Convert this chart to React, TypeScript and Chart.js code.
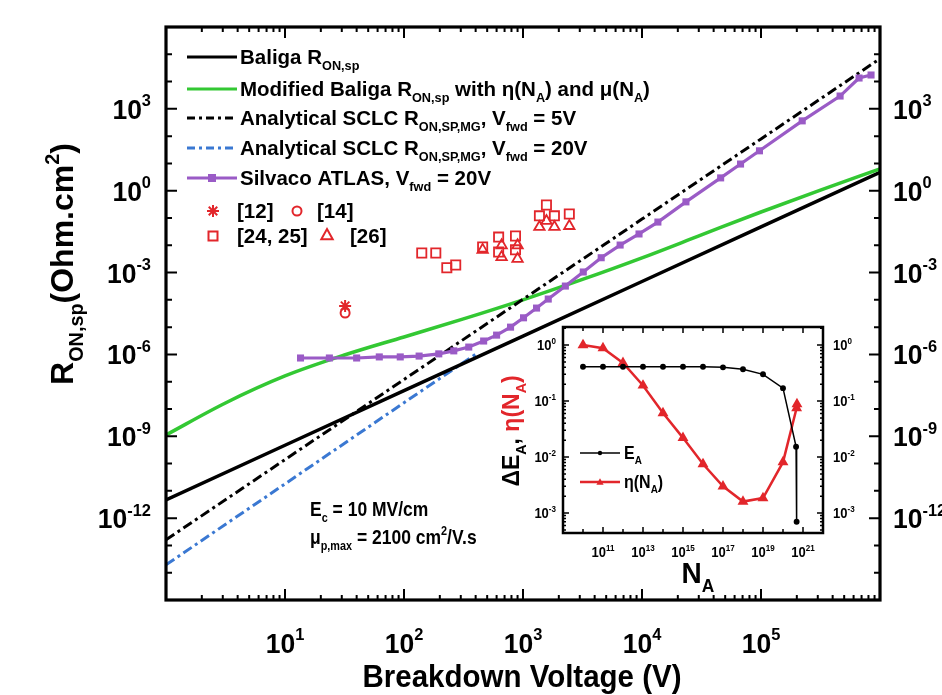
import React, { useEffect, useRef } from "react";
import { Chart, registerables } from "chart.js";

Chart.register(...registerables);

const FONT = '"Liberation Sans", Arial, Helvetica, sans-serif';
const GREEN = "#33c833";
const BLUE = "#3a78d2";
const PURPLE = "#9a5bc6";
const RED = "#e2262b";

// ---------------- main chart data ----------------
const baligaV = [1, 10, 100, 1000, 10000, 100000, 1000000];
const baligaR = [4.7e-12, 4.7e-10, 4.7e-8, 4.7e-6, 4.7e-4, 4.7e-2, 4.7];

const modBaligaV = [1, 3.16, 10, 31.6, 100, 316, 1000, 3160, 10000, 31600, 100000, 316000, 1000000];
const modBaligaR = [1.12e-9, 1.66e-8, 1.62e-7, 9.5e-7, 4.37e-6, 2.0e-5, 1.0e-4, 5.6e-4, 3.47e-3, 2.4e-2, 0.166, 1.06, 6.3];

const sclc5V = [1, 10, 100, 1000, 10000, 100000, 1000000];
const sclc5R = [1.6e-13, 1.4e-10, 1.2e-7, 1.05e-4, 9.1e-2, 79, 6.9e4];

const sclc20V = [1, 10, 100, 400];
const sclc20R = [1.95e-14, 1.8e-11, 1.7e-8, 1.02e-6];

const atlasV = [13.5, 23.6, 40, 62, 93, 134, 196, 262, 350, 467, 600, 786, 1010, 1300, 1630, 2270, 3210, 4540, 6550, 9440, 13600, 23400, 45800, 67300, 97100, 222000, 462000, 667000, 841000];
const atlasR = [7.4e-7, 7.4e-7, 7.4e-7, 8.1e-7, 8.1e-7, 8.7e-7, 1.05e-6, 1.35e-6, 1.86e-6, 3.1e-6, 5.1e-6, 1.0e-5, 2.2e-5, 5.0e-5, 1.07e-4, 3.2e-4, 1.05e-3, 3.5e-3, 1.02e-2, 2.6e-2, 7.1e-2, 0.39, 2.95, 9.5, 29, 363, 2950, 13500, 17400];

const ref12V = [32];
const ref12R = [6.0e-5];
const ref14V = [32];
const ref14R = [3.3e-5];
const ref2425V = [141, 185, 229, 272, 458, 624, 865, 624, 865, 1574, 1374, 1836, 2450];
const ref2425R = [5.2e-3, 5.2e-3, 1.5e-3, 1.9e-3, 8.7e-3, 2.0e-2, 2.2e-2, 5.7e-3, 6.8e-3, 0.3, 0.12, 0.12, 0.14];
const ref26V = [458, 661, 661, 900, 900, 1374, 1836, 2450, 1574];
const ref26R = [6.8e-3, 1.0e-2, 3.7e-3, 3.2e-3, 1.0e-2, 4.7e-2, 4.7e-2, 5.1e-2, 7.8e-2];

const xTickExps = [1, 2, 3, 4, 5];
const yTickExps = [3, 0, -3, -6, -9, -12];

// ---------------- inset data ----------------
const naEA = [1e10, 1e11, 1e12, 1e13, 1e14, 1e15, 1e16, 1e17, 1e18, 1e19, 1e20, 4.5e20, 4.8e20];
const deltaEA = [0.41, 0.41, 0.41, 0.41, 0.41, 0.41, 0.41, 0.4, 0.37, 0.3, 0.17, 0.0153, 7e-4];
const naEta = [1e10, 1e11, 1e12, 1e13, 1e14, 1e15, 1e16, 1e17, 1e18, 1e19, 1e20, 4.8e20, 5e20];
const eta = [1.0, 0.88, 0.48, 0.19, 0.061, 0.022, 7.5e-3, 3.0e-3, 1.6e-3, 1.85e-3, 8.1e-3, 0.075, 0.088];

const insetXTickExps = [11, 13, 15, 17, 19, 21];
const insetYTickExps = [0, -1, -2, -3];

// ---------------- helpers ----------------
type Seg = [string, string?, string?];
const pts = (xs: number[], ys: number[]) => xs.map((x, i) => ({ x, y: ys[i] }));
const fnt = (s: number) => `bold ${s}px ${FONT}`;
const segSize = (size: number, k?: string) => (k === "sub" || k === "sup" ? size * 0.62 : size);

function richWidth(ctx: CanvasRenderingContext2D, segs: Seg[], size: number) {
  let w = 0;
  for (const [t, k] of segs) {
    ctx.font = fnt(segSize(size, k));
    w += ctx.measureText(t).width;
  }
  return w;
}

function drawRich(ctx: CanvasRenderingContext2D, segs: Seg[], x: number, y: number, size: number, align = "left", color = "#000", sy = 1) {
  ctx.save();
  ctx.translate(x, y);
  ctx.scale(1, sy);
  const w = richWidth(ctx, segs, size);
  let cx = align === "left" ? 0 : align === "center" ? -w / 2 : -w;
  ctx.textAlign = "left";
  ctx.textBaseline = "alphabetic";
  for (const [t, k, c] of segs) {
    const s = segSize(size, k);
    ctx.font = fnt(s);
    ctx.fillStyle = c || color;
    const dy = k === "sub" ? size * 0.3 : k === "sup" ? -size * 0.45 : 0;
    ctx.fillText(t, cx, dy);
    cx += ctx.measureText(t).width;
  }
  ctx.restore();
}

function drawMarker(ctx: CanvasRenderingContext2D, kind: string, x: number, y: number, r: number, color: string, fill = false, lw = 1.6) {
  ctx.save();
  ctx.strokeStyle = color;
  ctx.fillStyle = color;
  ctx.lineWidth = lw;
  ctx.beginPath();
  if (kind === "star") {
    for (let a = 0; a < 4; a++) {
      const ang = (a * Math.PI) / 4;
      ctx.moveTo(x - r * Math.cos(ang), y - r * Math.sin(ang));
      ctx.lineTo(x + r * Math.cos(ang), y + r * Math.sin(ang));
    }
    ctx.stroke();
  } else if (kind === "circle") {
    ctx.arc(x, y, r, 0, Math.PI * 2);
    fill ? ctx.fill() : ctx.stroke();
  } else if (kind === "rect") {
    ctx.rect(x - r, y - r, 2 * r, 2 * r);
    fill ? ctx.fill() : ctx.stroke();
  } else if (kind === "triangle") {
    ctx.moveTo(x, y - r);
    ctx.lineTo(x + r * 0.95, y + r * 0.7);
    ctx.lineTo(x - r * 0.95, y + r * 0.7);
    ctx.closePath();
    fill ? ctx.fill() : ctx.stroke();
  }
  ctx.restore();
}

function tickLabel(exp: number): Seg[] {
  return [["10"], [String(exp), "sup"]];
}

// ---------------- main chart plugin ----------------
const mainDecor = {
  id: "mainDecor",
  beforeDraw(chart: any) {
    const ctx = chart.ctx;
    ctx.save();
    ctx.fillStyle = "#fff";
    ctx.fillRect(0, 0, chart.width, chart.height);
    ctx.restore();
  },
  afterDraw(chart: any) {
    const ctx: CanvasRenderingContext2D = chart.ctx;
    const { left, right, top, bottom } = chart.chartArea;
    const xs = chart.scales.x;
    const ys = chart.scales.y;
    ctx.save();
    ctx.strokeStyle = "#000";
    ctx.lineCap = "butt";
    ctx.lineWidth = 2;
    ctx.beginPath();
    for (let e = 0; e < 6; e++) {
      for (let m = 1; m <= 9; m++) {
        const v = m * Math.pow(10, e);
        const px = xs.getPixelForValue(v);
        const len = m === 1 ? 11 : 5;
        ctx.moveTo(px, bottom);
        ctx.lineTo(px, bottom - len);
        ctx.moveTo(px, top);
        ctx.lineTo(px, top + len);
      }
    }
    for (let e = -15; e <= 6; e++) {
      const py = ys.getPixelForValue(Math.pow(10, e));
      const len = e % 3 === 0 ? 11 : 6;
      ctx.moveTo(left, py);
      ctx.lineTo(left + len, py);
      ctx.moveTo(right, py);
      ctx.lineTo(right - len, py);
    }
    ctx.stroke();
    ctx.lineWidth = 3.2;
    ctx.strokeRect(left, top, right - left, bottom - top);
    ctx.restore();

    // tick labels
    const TS = 26.5;
    const SY = 1.06;
    for (const e of xTickExps) {
      const px = xs.getPixelForValue(Math.pow(10, e));
      drawRich(ctx, tickLabel(e), px, 653, TS, "center", "#000", SY);
    }
    for (const e of yTickExps) {
      const py = ys.getPixelForValue(Math.pow(10, e));
      const base = py + TS * 0.716 * SY * 0.5;
      drawRich(ctx, tickLabel(e), 151, base, TS, "right", "#000", SY);
      drawRich(ctx, tickLabel(e), 893, base, TS, "left", "#000", SY);
    }

    // axis titles
    drawRich(ctx, [["Breakdown Voltage (V)"]], 522, 687, 29.5, "center", "#000", 1.06);
    ctx.save();
    ctx.translate(73, 264);
    ctx.rotate(-Math.PI / 2);
    drawRich(ctx, [["R"], ["ON,sp", "sub"], ["(Ohm.cm"], ["2", "sup"], [")"]], 0, 0, 32, "center", "#000", 1.0);
    ctx.restore();

    // legend
    const LX0 = 187;
    const LX1 = 237;
    const TX = 240;
    const LS = 20.5;
    const rows: { y: number; kind: string; color: string; segs: Seg[] }[] = [
      { y: 57, kind: "solid", color: "#000", segs: [["Baliga R"], ["ON,sp", "sub"]] },
      { y: 89, kind: "solid", color: GREEN, segs: [["Modified Baliga R"], ["ON,sp", "sub"], [" with \u03b7(N"], ["A", "sub"], [") and \u03bc(N"], ["A", "sub"], [")"]] },
      { y: 118, kind: "dashdot", color: "#000", segs: [["Analytical SCLC R"], ["ON,SP,MG", "sub"], [", V"], ["fwd", "sub"], [" = 5V"]] },
      { y: 148, kind: "dashdot", color: BLUE, segs: [["Analytical SCLC R"], ["ON,SP,MG", "sub"], [", V"], ["fwd", "sub"], [" = 20V"]] },
      { y: 178, kind: "marker", color: PURPLE, segs: [["Silvaco ATLAS, V"], ["fwd", "sub"], [" = 20V"]] },
    ];
    for (const r of rows) {
      ctx.save();
      ctx.strokeStyle = r.color;
      ctx.lineWidth = 3.2;
      if (r.kind === "dashdot") ctx.setLineDash([8, 4, 3, 4]);
      ctx.beginPath();
      ctx.moveTo(LX0, r.y);
      ctx.lineTo(LX1, r.y);
      ctx.stroke();
      ctx.restore();
      if (r.kind === "marker") drawMarker(ctx, "rect", (LX0 + LX1) / 2, r.y, 4, r.color, true);
      drawRich(ctx, r.segs, TX, r.y + 7, LS, "left", "#000", 1.0);
    }
    drawMarker(ctx, "star", 213, 211, 6, RED, false, 2);
    drawRich(ctx, [["[12]"]], 237, 218, LS, "left", "#000", 1.0);
    drawMarker(ctx, "circle", 297, 211, 4.5, RED, false, 2);
    drawRich(ctx, [["[14]"]], 317, 218, LS, "left", "#000", 1.0);
    drawMarker(ctx, "rect", 213, 236, 4.5, RED, false, 2);
    drawRich(ctx, [["[24, 25]"]], 237, 243, LS, "left", "#000", 1.0);
    drawMarker(ctx, "triangle", 327, 235, 6, RED, false, 2);
    drawRich(ctx, [["[26]"]], 350, 243, LS, "left", "#000", 1.0);

    // annotations
    drawRich(ctx, [["E"], ["c", "sub"], [" = 10 MV/cm"]], 310, 516, 17.5, "left", "#000", 1.15);
    drawRich(ctx, [["\u03bc"], ["p,max", "sub"], [" = 2100 cm"], ["2", "sup"], ["/V.s"]], 310, 544, 17.5, "left", "#000", 1.15);
  },
};

// ---------------- inset plugin ----------------
const insetDecor = {
  id: "insetDecor",
  beforeDraw(chart: any) {
    const ctx = chart.ctx;
    const { left, right, top, bottom } = chart.chartArea;
    ctx.save();
    ctx.fillStyle = "#fff";
    ctx.fillRect(left, top, right - left, bottom - top);
    ctx.restore();
  },
  afterDraw(chart: any) {
    const ctx: CanvasRenderingContext2D = chart.ctx;
    const { left, right, top, bottom } = chart.chartArea;
    const xs = chart.scales.x;
    const ys = chart.scales.y;
    ctx.save();
    ctx.strokeStyle = "#000";
    ctx.lineWidth = 1.5;
    ctx.beginPath();
    for (let e = 9; e <= 22; e++) {
      const px = xs.getPixelForValue(Math.pow(10, e));
      const len = e % 2 === 1 ? 6 : 4;
      ctx.moveTo(px, bottom);
      ctx.lineTo(px, bottom - len);
      ctx.moveTo(px, top);
      ctx.lineTo(px, top + len);
    }
    for (let e = -4; e <= 0; e++) {
      for (let m = 1; m <= 9; m++) {
        const v = m * Math.pow(10, e);
        if (v < ys.min || v > ys.max) continue;
        const py = ys.getPixelForValue(v);
        const len = m === 1 ? 6 : 3;
        ctx.moveTo(left, py);
        ctx.lineTo(left + len, py);
        ctx.moveTo(right, py);
        ctx.lineTo(right - len, py);
      }
    }
    ctx.stroke();
    ctx.lineWidth = 2.5;
    ctx.strokeRect(left, top, right - left, bottom - top);
    ctx.restore();

    const IS = 13;
    for (const e of insetXTickExps) {
      const px = xs.getPixelForValue(Math.pow(10, e));
      drawRich(ctx, tickLabel(e), px, bottom + 24, IS, "center", "#000", 1.1);
    }
    for (const e of insetYTickExps) {
      const py = ys.getPixelForValue(Math.pow(10, e));
      const base = py + IS * 0.36 * 1.1;
      drawRich(ctx, tickLabel(e), left - 7, base, IS, "right", "#000", 1.1);
      drawRich(ctx, tickLabel(e), right + 10, base, IS, "left", "#000", 1.1);
    }

    // legend
    const lx0 = left + 17;
    const lx1 = left + 57;
    const rowsI: { y: number; color: string; mk: string; segs: Seg[] }[] = [
      { y: top + 126, color: "#000", mk: "circle", segs: [["E"], ["A", "sub"]] },
      { y: top + 155, color: RED, mk: "triangle", segs: [["\u03b7(N"], ["A", "sub"], [")"]] },
    ];
    for (const r of rowsI) {
      ctx.save();
      ctx.strokeStyle = r.color;
      ctx.lineWidth = r.color === RED ? 2.5 : 1.5;
      ctx.beginPath();
      ctx.moveTo(lx0, r.y);
      ctx.lineTo(lx1, r.y);
      ctx.stroke();
      ctx.restore();
      drawMarker(ctx, r.mk, (lx0 + lx1) / 2, r.y, r.mk === "circle" ? 2.2 : 3.8, r.color, true);
      drawRich(ctx, r.segs, lx1 + 4, r.y + 6, 16, "left", "#000", 1.1);
    }

    // titles
    drawRich(ctx, [["N"], ["A", "sub"]], left + 135, bottom + 50, 28, "center", "#000", 1.05);
    ctx.save();
    ctx.translate(left - 44, top + 104);
    ctx.rotate(-Math.PI / 2);
    drawRich(
      ctx,
      [["\u0394E", "n", "#000"], ["A", "sub", "#000"], [", ", "n", "#000"], ["\u03b7(N", "n", RED], ["A", "sub", RED], [")", "n", RED]],
      0,
      0,
      23,
      "center",
      "#000",
      1.0
    );
    ctx.restore();
  },
};

export default function App() {
  const mainRef = useRef<HTMLCanvasElement>(null);
  const insetRef = useRef<HTMLCanvasElement>(null);

  useEffect(() => {
    const dashDot = [10, 4, 3, 4];
    const main = new Chart(mainRef.current as HTMLCanvasElement, {
      type: "line",
      data: {
        datasets: [
          { label: "[12]", data: pts(ref12V, ref12R), showLine: false, pointStyle: "star", pointRadius: 6, borderColor: RED, borderWidth: 2, pointBorderWidth: 2 },
          { label: "[14]", data: pts(ref14V, ref14R), showLine: false, pointStyle: "circle", pointRadius: 4.5, borderColor: RED, backgroundColor: "rgba(0,0,0,0)", pointBorderWidth: 2 },
          { label: "[24, 25]", data: pts(ref2425V, ref2425R), showLine: false, pointStyle: "rect", pointRadius: 6.5, borderColor: RED, backgroundColor: "rgba(0,0,0,0)", pointBorderWidth: 1.8 },
          { label: "[26]", data: pts(ref26V, ref26R), showLine: false, pointStyle: "triangle", pointRadius: 6, borderColor: RED, backgroundColor: "rgba(0,0,0,0)", pointBorderWidth: 1.8 },
          { label: "Silvaco ATLAS", data: pts(atlasV, atlasR), borderColor: PURPLE, backgroundColor: PURPLE, borderWidth: 3.2, pointStyle: "rect", pointRadius: 5, pointBorderWidth: 0 },
          { label: "SCLC 5V", data: pts(sclc5V, sclc5R), borderColor: "#000", borderWidth: 3, borderDash: dashDot, pointRadius: 0 },
          { label: "Modified Baliga", data: pts(modBaligaV, modBaligaR), borderColor: GREEN, borderWidth: 3.5, pointRadius: 0, cubicInterpolationMode: "monotone" },
          { label: "Baliga", data: pts(baligaV, baligaR), borderColor: "#000", borderWidth: 3.5, pointRadius: 0 },
          { label: "SCLC 20V", data: pts(sclc20V, sclc20R), borderColor: BLUE, borderWidth: 3, borderDash: dashDot, pointRadius: 0 },
        ] as any,
      },
      options: {
        animation: false,
        responsive: false,
        layout: { padding: { left: 166, top: 27, right: 62, bottom: 95 } },
        plugins: { legend: { display: false }, tooltip: { enabled: false } },
        scales: {
          x: { type: "logarithmic", min: 1, max: 1e6, display: false },
          y: { type: "logarithmic", min: 1e-15, max: 1e6, display: false },
        },
      } as any,
      plugins: [mainDecor],
    });

    const inset = new Chart(insetRef.current as HTMLCanvasElement, {
      type: "line",
      data: {
        datasets: [
          { label: "E_A", data: pts(naEA, deltaEA), borderColor: "#000", backgroundColor: "#000", borderWidth: 1.5, pointStyle: "circle", pointRadius: 2.2 },
          { label: "eta", data: pts(naEta, eta), borderColor: RED, backgroundColor: RED, borderWidth: 2.5, pointStyle: "triangle", pointRadius: 3.8 },
        ] as any,
      },
      options: {
        animation: false,
        responsive: false,
        layout: { padding: { left: 63, top: 27, right: 57, bottom: 67 } },
        plugins: { legend: { display: false }, tooltip: { enabled: false } },
        scales: {
          x: { type: "logarithmic", min: 1e9, max: 1e22, display: false },
          y: { type: "logarithmic", min: 4.4e-4, max: 2.1, display: false },
        },
      } as any,
      plugins: [insetDecor],
    });

    return () => {
      main.destroy();
      inset.destroy();
    };
  }, []);

  return (
    <div style={{ position: "fixed", left: 0, top: 0, width: 942, height: 695, background: "#fff" }}>
      <canvas ref={mainRef} width={942} height={695} style={{ position: "absolute", left: 0, top: 0, display: "block" }} />
      <canvas ref={insetRef} width={380} height={300} style={{ position: "absolute", left: 500, top: 300, display: "block" }} />
    </div>
  );
}
